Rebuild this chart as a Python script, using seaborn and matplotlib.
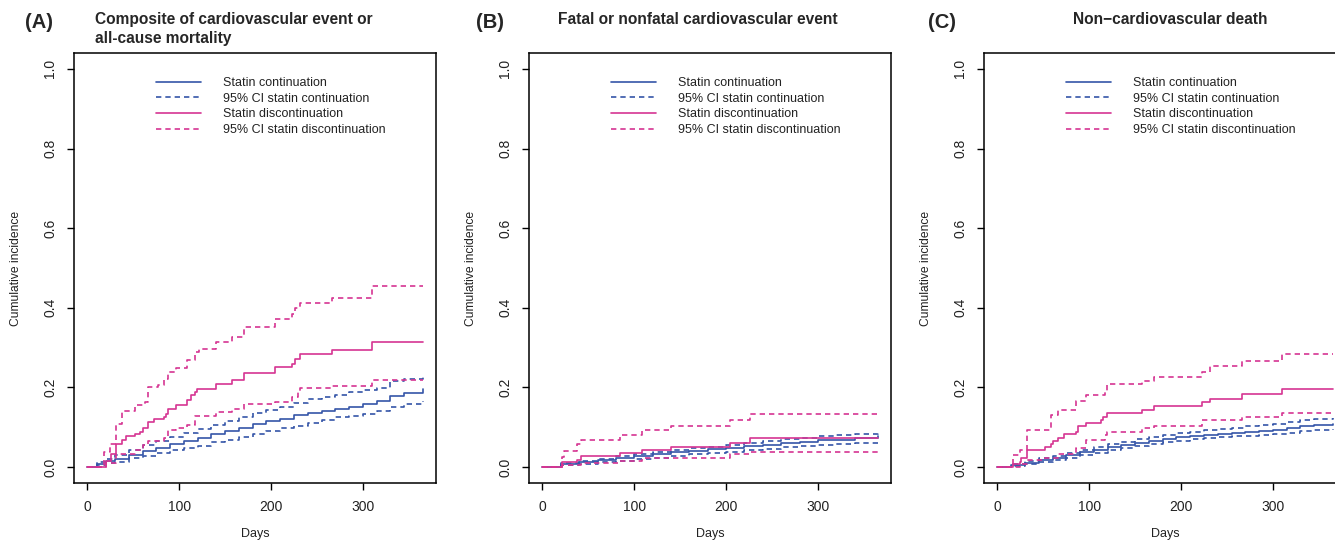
import matplotlib
matplotlib.use("Agg")
import matplotlib.pyplot as plt
import numpy as np
import pandas as pd
import seaborn as sns

sns.set_style("white")
plt.rcParams['font.family'] = ['Liberation Sans', 'DejaVu Sans']

BLUE = "#3555A8"
MAGENTA = "#D63592"

# ---- (A) composite of CV event or all-cause mortality ----
a_cont_days = [0, 10, 20, 30, 45, 60, 75, 90, 105, 120, 135, 150, 165, 180, 195, 210,
               225, 240, 255, 270, 285, 300, 315, 330, 345, 365]
a_cont = [0, 0.008, 0.015, 0.02, 0.03, 0.04, 0.048, 0.057, 0.065, 0.073, 0.082, 0.09, 0.098,
          0.107, 0.115, 0.122, 0.13, 0.136, 0.141, 0.146, 0.152, 0.158, 0.165, 0.178, 0.186, 0.197]
a_cont_hi = [0, 0.012, 0.02, 0.03, 0.043, 0.055, 0.065, 0.076, 0.086, 0.095, 0.105, 0.115, 0.125,
             0.135, 0.143, 0.152, 0.162, 0.17, 0.176, 0.182, 0.188, 0.193, 0.199, 0.215, 0.222, 0.23]
a_cont_lo = [0, 0.005, 0.01, 0.014, 0.022, 0.029, 0.035, 0.042, 0.048, 0.054, 0.062, 0.069, 0.076,
             0.083, 0.09, 0.097, 0.104, 0.111, 0.118, 0.125, 0.129, 0.133, 0.14, 0.15, 0.158, 0.167]

a_disc_days = [0, 20, 26, 31, 38, 42, 52, 57, 61, 66, 73, 83, 86, 88, 96, 108, 113, 117, 119,
               140, 157, 170, 204, 223, 226, 232, 266, 310, 365]
a_disc = [0, 0.016, 0.033, 0.058, 0.069, 0.078, 0.084, 0.088, 0.097, 0.113, 0.122, 0.126, 0.134,
          0.146, 0.157, 0.169, 0.18, 0.188, 0.196, 0.209, 0.219, 0.236, 0.251, 0.259, 0.272,
          0.284, 0.294, 0.314, 0.314]

a_disc_hi_days = [0, 18, 25, 31, 38, 52, 63, 66, 77, 83, 88, 96, 108, 117, 121, 140, 157, 170,
                  204, 223, 226, 232, 266, 310, 365]
a_disc_hi = [0, 0.037, 0.059, 0.109, 0.142, 0.155, 0.163, 0.2, 0.205, 0.22, 0.238, 0.25, 0.268,
             0.288, 0.297, 0.314, 0.326, 0.351, 0.371, 0.384, 0.399, 0.413, 0.424, 0.454, 0.454]

a_disc_lo_days = [0, 20, 31, 52, 61, 66, 83, 88, 96, 108, 117, 140, 157, 170, 204, 223, 229,
                  232, 266, 310, 365]
a_disc_lo = [0, 0.009, 0.034, 0.042, 0.055, 0.066, 0.074, 0.092, 0.098, 0.105, 0.128, 0.138,
             0.147, 0.158, 0.163, 0.176, 0.188, 0.198, 0.203, 0.218, 0.218]

# ---- (B) fatal or nonfatal CV event ----
b_cont_days = [0, 20, 40, 60, 80, 100, 120, 140, 160, 180, 200, 220, 240, 260, 280, 300, 320, 340, 365]
b_cont = [0, 0.007, 0.012, 0.018, 0.023, 0.028, 0.033, 0.037, 0.041, 0.045, 0.048, 0.052,
          0.056, 0.06, 0.064, 0.067, 0.069, 0.072, 0.077]
b_cont_hi = [0, 0.01, 0.016, 0.021, 0.027, 0.032, 0.037, 0.042, 0.047, 0.051, 0.056, 0.061,
             0.065, 0.07, 0.074, 0.078, 0.081, 0.084, 0.092]
b_cont_lo = [0, 0.004, 0.008, 0.012, 0.016, 0.02, 0.024, 0.028, 0.032, 0.035, 0.039, 0.042,
             0.046, 0.05, 0.053, 0.056, 0.058, 0.06, 0.065]

b_disc_days = [0, 21, 38, 42, 84, 108, 140, 204, 226, 365]
b_disc = [0, 0.013, 0.019, 0.028, 0.036, 0.044, 0.051, 0.061, 0.072, 0.072]
b_disc_hi_days = [0, 21, 23, 38, 42, 84, 108, 140, 204, 226, 365]
b_disc_hi = [0, 0.026, 0.041, 0.057, 0.069, 0.08, 0.093, 0.103, 0.118, 0.133, 0.133]
b_disc_lo_days = [0, 21, 42, 84, 108, 140, 204, 226, 365]
b_disc_lo = [0, 0.004, 0.011, 0.016, 0.022, 0.024, 0.032, 0.038, 0.038]

# ---- (C) non-cardiovascular death ----
c_cont_days = [0, 15, 30, 45, 60, 75, 90, 105, 120, 135, 150, 165, 180, 195, 210, 225, 240,
               255, 270, 285, 300, 315, 330, 345, 365]
c_cont = [0, 0.005, 0.01, 0.017, 0.024, 0.03, 0.037, 0.043, 0.05, 0.056, 0.061, 0.066, 0.071,
          0.075, 0.078, 0.081, 0.084, 0.086, 0.088, 0.09, 0.093, 0.097, 0.104, 0.106, 0.108]
c_cont_hi = [0, 0.008, 0.015, 0.022, 0.029, 0.036, 0.043, 0.05, 0.057, 0.064, 0.07, 0.075, 0.08,
             0.085, 0.089, 0.093, 0.096, 0.099, 0.102, 0.105, 0.108, 0.112, 0.117, 0.12, 0.124]
c_cont_lo = [0, 0.003, 0.007, 0.012, 0.018, 0.024, 0.03, 0.036, 0.042, 0.048, 0.053, 0.058,
             0.062, 0.066, 0.07, 0.073, 0.075, 0.077, 0.079, 0.081, 0.083, 0.086, 0.09, 0.092, 0.095]

c_disc_days = [0, 17, 25, 26, 32, 52, 58, 61, 66, 73, 86, 88, 96, 113, 115, 119, 157, 170,
               223, 232, 266, 310, 365]
c_disc = [0, 0.008, 0.013, 0.022, 0.044, 0.051, 0.059, 0.066, 0.074, 0.082, 0.088, 0.103,
          0.111, 0.119, 0.126, 0.136, 0.144, 0.153, 0.163, 0.172, 0.183, 0.197, 0.197]
c_disc_hi_days = [0, 17, 25, 32, 58, 66, 86, 96, 117, 119, 157, 170, 223, 232, 266, 310, 365]
c_disc_hi = [0, 0.03, 0.043, 0.093, 0.13, 0.143, 0.166, 0.18, 0.19, 0.208, 0.216, 0.226,
             0.238, 0.253, 0.266, 0.284, 0.284]
c_disc_lo_days = [0, 25, 32, 52, 66, 86, 96, 117, 119, 157, 170, 223, 266, 310, 365]
c_disc_lo = [0, 0.008, 0.018, 0.024, 0.034, 0.048, 0.069, 0.08, 0.088, 0.097, 0.103, 0.119,
             0.126, 0.137, 0.137]

panel_letters = ["(A)", "(B)", "(C)"]
panel_titles = ["Composite of cardiovascular event or\nall-cause mortality",
                "Fatal or nonfatal cardiovascular event",
                "Non\u2212cardiovascular death"]
legend_labels = ["Statin continuation", "95% CI statin continuation",
                 "Statin discontinuation", "95% CI statin discontinuation"]

panels = [
    [(a_cont_days, a_cont, a_cont_hi, a_cont_lo),
     (a_disc_days, a_disc), (a_disc_hi_days, a_disc_hi), (a_disc_lo_days, a_disc_lo)],
    [(b_cont_days, b_cont, b_cont_hi, b_cont_lo),
     (b_disc_days, b_disc), (b_disc_hi_days, b_disc_hi), (b_disc_lo_days, b_disc_lo)],
    [(c_cont_days, c_cont, c_cont_hi, c_cont_lo),
     (c_disc_days, c_disc), (c_disc_hi_days, c_disc_hi), (c_disc_lo_days, c_disc_lo)],
]

fig = plt.figure(figsize=(13.35, 5.41), dpi=100)
lefts = [74 / 1335, 529 / 1335, 984 / 1335]
w, bottom, h = 362 / 1335, 1 - 483 / 541, 430 / 541
dash = (3.2, 2.4)
lw = 1.2

for i, (cont, disc, disc_hi, disc_lo) in enumerate(panels):
    ax = fig.add_axes([lefts[i], bottom, w, h])
    days, mid, hi, lo = cont
    sns.lineplot(x=days, y=mid, ax=ax, color=BLUE, lw=lw, drawstyle="steps-post",
                 estimator=None, label=legend_labels[0])
    sns.lineplot(x=days, y=hi, ax=ax, color=BLUE, lw=lw, drawstyle="steps-post",
                 estimator=None, label=legend_labels[1])
    sns.lineplot(x=days, y=lo, ax=ax, color=BLUE, lw=lw, drawstyle="steps-post",
                 estimator=None)
    sns.lineplot(x=disc[0], y=disc[1], ax=ax, color=MAGENTA, lw=lw, drawstyle="steps-post",
                 estimator=None, label=legend_labels[2])
    sns.lineplot(x=disc_hi[0], y=disc_hi[1], ax=ax, color=MAGENTA, lw=lw,
                 drawstyle="steps-post", estimator=None, label=legend_labels[3])
    sns.lineplot(x=disc_lo[0], y=disc_lo[1], ax=ax, color=MAGENTA, lw=lw,
                 drawstyle="steps-post", estimator=None)
    lines = ax.get_lines()
    for k in (1, 2, 4, 5):
        lines[k].set_dashes(dash)

    ax.set_xlim(-14.6, 379.6)
    ax.set_ylim(-0.04, 1.04)
    ax.set_xticks([0, 100, 200, 300])
    ax.set_yticks([0, 0.2, 0.4, 0.6, 0.8, 1.0])
    ax.set_yticklabels(["0.0", "0.2", "0.4", "0.6", "0.8", "1.0"], rotation=90, va="center")
    ax.tick_params(axis="both", direction="out", length=5, width=1, color="black",
                   labelsize=10, labelcolor="#222222", pad=7, bottom=True, left=True)
    for s in ax.spines.values():
        s.set_color("black")
        s.set_linewidth(1.1)
    ax.set_xlabel("Days", fontsize=9, color="#222222")
    ax.set_ylabel("Cumulative incidence", fontsize=8.7, color="#222222")
    ax.xaxis.set_label_coords(0.5, -0.105)
    ax.yaxis.set_label_coords(-0.145, 0.5)

    leg = ax.legend(loc="upper left", bbox_to_anchor=(0.212, 0.956), frameon=False,
                    fontsize=9, handlelength=3.6, handletextpad=1.75, labelspacing=0.3,
                    borderaxespad=0)
    for t in leg.get_texts():
        t.set_color("#222222")

fig.text(25 / 1335, 1 - 22 / 541, "(A)", fontsize=14.5, fontweight="bold", va="center")
fig.text(476 / 1335, 1 - 22 / 541, "(B)", fontsize=14.5, fontweight="bold", va="center")
fig.text(928 / 1335, 1 - 22 / 541, "(C)", fontsize=14.5, fontweight="bold", va="center")
fig.text(95 / 1335, 1 - 29 / 541, panel_titles[0], fontsize=11.2, fontweight="bold",
         va="center", ha="left", linespacing=1.3)
fig.text(698 / 1335, 1 - 20 / 541, panel_titles[1], fontsize=11.2, fontweight="bold",
         va="center", ha="center")
fig.text(1170 / 1335, 1 - 20 / 541, panel_titles[2], fontsize=11.2, fontweight="bold",
         va="center", ha="center")

fig.savefig("out.png", dpi=100)
plt.close(fig)
